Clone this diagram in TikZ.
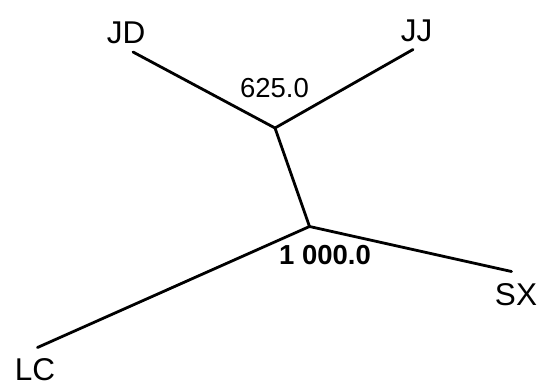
\documentclass[tikz,border=0pt]{standalone}
\usepackage{fontspec}
\setmainfont{Liberation Sans}
\begin{document}
\begin{tikzpicture}[x=1pt,y=-1pt,
  branch/.style={line width=2.8pt,line cap=round},
  leaf/.style={anchor=base,inner sep=0pt,font=\fontsize{31.5}{31.5}\selectfont},
  support/.style={anchor=base,inner sep=0pt,font=\fontsize{27.5}{27.5}\selectfont}]
\useasboundingbox (0,0) rectangle (541,385);
% internal vertices and leaf ends of the tree
\coordinate (u) at (275,128);
\coordinate (v) at (309.5,226.5);
\coordinate (jd) at (133,52);
\coordinate (jj) at (413,49.5);
\coordinate (sx) at (511.5,271.5);
\coordinate (lc) at (37.5,347.5);
% branches
\draw[branch] (jd) -- (u) -- (jj);
\draw[branch] (u) -- (v);
\draw[branch] (sx) -- (v) -- (lc);
% taxon labels
\node[leaf] (tJD) at (126,44) {JD};
\node[leaf] (tJJ) at (416.5,42) {JJ};
\node[leaf] (tSX) at (516,305) {SX};
\node[leaf] (tLC) at (35,380.5) {LC};
% support values
\node[support] (s1) at (274.5,98) {625.0};
\node[support,font=\fontsize{27.5}{27.5}\selectfont\bfseries] (s2) at (325,264.5) {1 000.0};
\end{tikzpicture}
\end{document}
